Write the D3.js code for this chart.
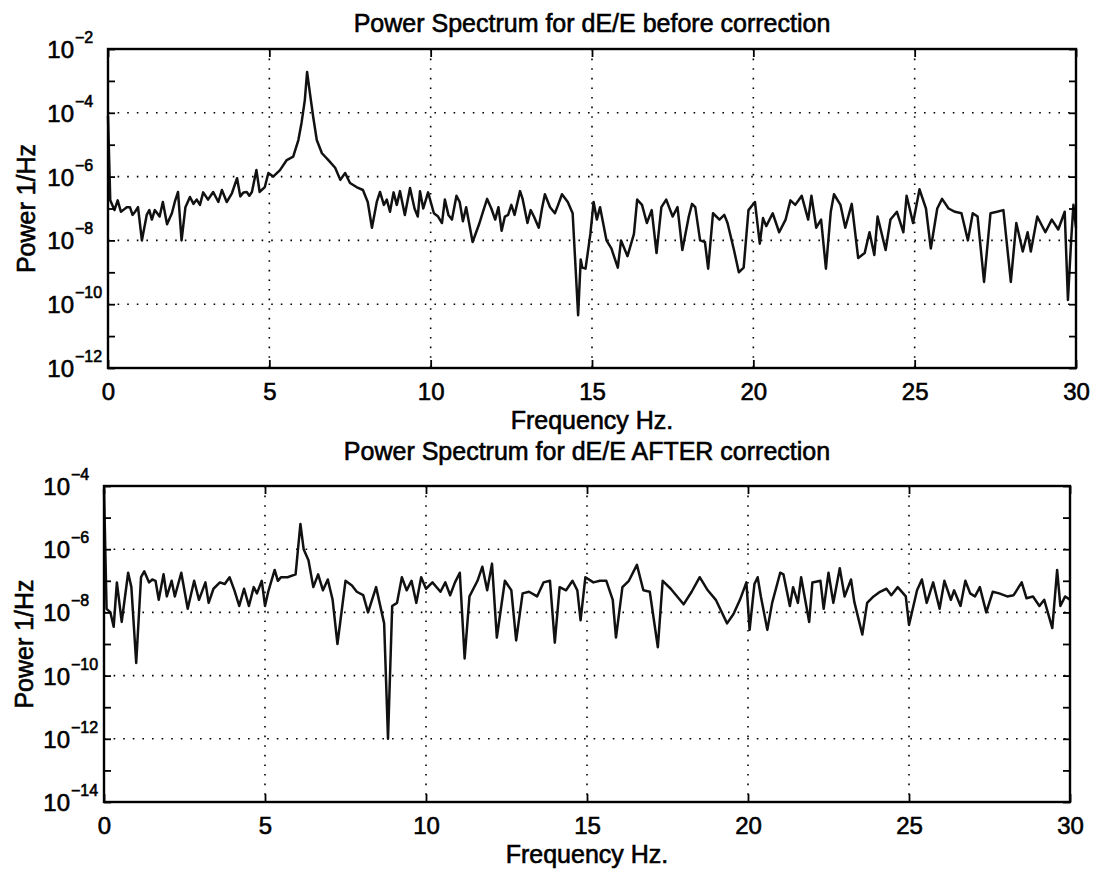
<!DOCTYPE html>
<html>
<head>
<meta charset="utf-8">
<script src="https://cdn.jsdelivr.net/npm/d3@7"></script>
<style>
    body { margin: 0; background: #fff; }
    svg text { font-family: "Liberation Sans", Arial, Helvetica, sans-serif; fill: #000; stroke: #000; stroke-width: 0.6px; }
    .grid line { stroke: #000; stroke-width: 1.6; stroke-dasharray: 1.6 8; }
    .tick line { stroke: #000; stroke-width: 1.8; }
    .frame { fill: none; stroke: #000; stroke-width: 2.4; }
    .trace { fill: none; stroke: #111; stroke-width: 2.5; stroke-linejoin: round; }
</style>
</head>
<body>
<svg id="chart" width="1093" height="872"></svg>
<script>
// (Hz, 1/Hz)
const freqBefore = [0.00, 0.07, 0.20, 0.30, 0.40, 0.47, 0.58, 0.68, 0.76, 0.84, 0.93, 1.05, 1.20, 1.28, 1.36, 1.45, 1.60, 1.70, 1.83, 1.98,
    2.07, 2.17, 2.28, 2.40, 2.54, 2.65, 2.75, 2.85, 2.95, 3.10, 3.26, 3.42, 3.53, 3.68, 3.84, 4.00, 4.10, 4.20, 4.30, 4.38,
    4.46, 4.60, 4.70, 4.86, 4.97, 5.12, 5.33, 5.54, 5.74, 5.90, 6.00, 6.10, 6.17, 6.26, 6.36, 6.47, 6.63, 6.83, 7.04, 7.20,
    7.35, 7.50, 7.70, 7.90, 8.05, 8.18, 8.33, 8.43, 8.55, 8.64, 8.74, 8.85, 8.95, 9.05, 9.20, 9.36, 9.50, 9.60, 9.67, 9.77,
    9.92, 10.10, 10.23, 10.35, 10.44, 10.55, 10.66, 10.80, 10.90, 11.00, 11.10, 11.30, 11.50, 11.62, 11.75, 11.88, 12.00, 12.10, 12.20, 12.30,
    12.40, 12.50, 12.60, 12.77, 12.85, 13.00, 13.10, 13.20, 13.35, 13.45, 13.54, 13.70, 13.85, 13.95, 14.07, 14.25, 14.40, 14.57, 14.65, 14.70,
    14.80, 14.95, 15.05, 15.15, 15.25, 15.45, 15.60, 15.80, 15.90, 16.10, 16.30, 16.40, 16.55, 16.70, 16.85, 17.00, 17.15, 17.30, 17.50, 17.65,
    17.80, 18.00, 18.10, 18.20, 18.35, 18.50, 18.60, 18.75, 18.95, 19.10, 19.20, 19.40, 19.55, 19.70, 19.85, 20.05, 20.20, 20.30, 20.40, 20.60,
    20.80, 21.00, 21.15, 21.30, 21.50, 21.70, 21.80, 21.95, 22.10, 22.25, 22.40, 22.50, 22.70, 22.85, 23.05, 23.25, 23.45, 23.60, 23.75, 23.85,
    24.10, 24.25, 24.45, 24.65, 24.75, 24.95, 25.15, 25.35, 25.50, 25.70, 25.85, 26.05, 26.25, 26.45, 26.65, 26.80, 26.95, 27.15, 27.35, 27.55,
    27.75, 27.98, 28.15, 28.35, 28.50, 28.60, 28.80, 29.05, 29.25, 29.45, 29.65, 29.75, 29.85, 29.92, 30.00];
const powerBefore = [7.9e-5, 1.8e-7, 8.9e-8, 1.8e-7, 7.9e-8, 8.9e-8, 1.1e-7, 1.1e-7, 6.3e-8, 7.9e-8, 1.1e-7, 1e-8, 6.3e-8, 8.9e-8, 4.5e-8, 8.9e-8, 5.6e-8, 1.6e-7, 3.2e-8, 7.1e-8,
    1.6e-7, 3.3e-7, 1e-8, 1.1e-7, 2.3e-7, 1.4e-7, 1.9e-7, 1.3e-7, 3.2e-7, 1.9e-7, 3.3e-7, 1.6e-7, 3.8e-7, 1.6e-7, 3.0e-7, 8.9e-7, 2.4e-7, 3.2e-7, 3.3e-7, 2.5e-7,
    3.3e-7, 1.6e-6, 3.3e-7, 4.7e-7, 1.3e-6, 1e-6, 1.6e-6, 3.3e-6, 4.2e-6, 1.4e-5, 5.0e-5, 2.5e-4, 1.9e-3, 4.0e-4, 7.4e-5, 1.4e-5, 5.4e-6, 3.3e-6, 1.9e-6, 7.9e-7,
    1.3e-6, 6.3e-7, 4.7e-7, 3.8e-7, 1.6e-7, 2.5e-8, 1.6e-7, 3.3e-7, 1.3e-7, 1.9e-7, 7.9e-8, 3.2e-7, 1.3e-7, 3.5e-7, 6.3e-8, 4.4e-7, 1e-7, 5.6e-8, 3.5e-7, 1e-7,
    3.2e-7, 7.1e-8, 5.6e-8, 3.5e-8, 1.9e-7, 6.3e-8, 4.5e-8, 2.5e-7, 1.6e-7, 4.0e-8, 1.1e-7, 8.9e-9, 3.2e-8, 7.9e-8, 2.0e-7, 1e-7, 4.5e-8, 1.1e-7, 2.0e-8, 5.6e-8,
    6.3e-8, 1.3e-7, 6.3e-8, 3.5e-7, 2.0e-7, 3.5e-8, 8.9e-8, 5.6e-8, 2.5e-8, 1e-7, 2.8e-7, 1.1e-7, 7.1e-8, 1.3e-7, 2.8e-7, 1.6e-7, 7.1e-8, 4.5e-11, 2.5e-9, 1.4e-9,
    1.3e-9, 1.6e-8, 1.6e-7, 4.5e-8, 1.1e-7, 1e-8, 5.6e-9, 1.4e-9, 1e-8, 3.2e-9, 1.6e-8, 1.9e-7, 1.3e-7, 3.5e-8, 8.9e-8, 4.0e-9, 1.1e-7, 1.9e-7, 5.6e-8, 1.1e-7,
    5.0e-9, 5.6e-8, 1.4e-7, 1.1e-7, 1e-8, 8.9e-9, 1.3e-9, 7.1e-8, 4.5e-8, 6.3e-8, 3.5e-8, 5.0e-9, 1e-9, 1.4e-9, 8.9e-8, 1.6e-7, 7.9e-9, 5.0e-8, 2.8e-8, 7.1e-8,
    1.8e-8, 4.5e-8, 1.8e-7, 1.3e-7, 2.5e-7, 4.5e-8, 2.5e-7, 2.5e-8, 4.5e-8, 1.3e-9, 7.9e-8, 2.8e-7, 1.3e-7, 2.5e-8, 1.4e-7, 2.8e-9, 4.0e-9, 1.8e-8, 3.5e-9, 5.6e-8,
    5.0e-9, 4.5e-8, 7.9e-8, 1.8e-8, 2.5e-7, 3.5e-8, 4.0e-7, 1e-7, 5.6e-9, 1e-7, 2.0e-7, 1e-7, 7.9e-8, 7.1e-8, 1e-8, 7.1e-8, 5.6e-8, 5.0e-10, 7.1e-8, 7.9e-8,
    8.9e-8, 5.0e-10, 3.5e-8, 4.5e-9, 1.8e-8, 4.5e-9, 5.6e-8, 1.8e-8, 4.5e-8, 2.2e-8, 7.9e-8, 1.35e-10, 1e-8, 1.3e-7, 2.5e-8];

const freqAfter = [0.00, 0.08, 0.20, 0.30, 0.40, 0.55, 0.75, 0.85, 1.00, 1.15, 1.25, 1.40, 1.50, 1.60, 1.70, 1.85, 1.95, 2.10, 2.20, 2.40,
    2.60, 2.80, 2.95, 3.15, 3.25, 3.40, 3.60, 3.75, 3.90, 4.05, 4.20, 4.35, 4.50, 4.65, 4.75, 4.90, 5.00, 5.10, 5.30, 5.40,
    5.50, 5.70, 5.95, 6.10, 6.20, 6.35, 6.50, 6.65, 6.80, 6.95, 7.10, 7.25, 7.50, 7.70, 7.85, 8.05, 8.20, 8.45, 8.70, 8.82,
    8.95, 9.10, 9.25, 9.40, 9.55, 9.70, 9.85, 10.00, 10.20, 10.45, 10.60, 10.75, 10.90, 11.05, 11.20, 11.35, 11.60, 11.75, 11.90, 12.05,
    12.20, 12.45, 12.65, 12.80, 13.00, 13.20, 13.45, 13.65, 13.85, 14.00, 14.15, 14.35, 14.55, 14.70, 14.80, 14.95, 15.20, 15.40, 15.60, 15.80,
    15.90, 16.10, 16.30, 16.55, 16.75, 16.95, 17.20, 17.35, 17.60, 17.80, 18.00, 18.25, 18.50, 18.75, 19.00, 19.35, 19.55, 19.75, 19.95, 20.05,
    20.20, 20.30, 20.40, 20.60, 20.75, 21.00, 21.10, 21.30, 21.40, 21.55, 21.65, 21.90, 22.00, 22.25, 22.35, 22.50, 22.65, 22.85, 23.00, 23.20,
    23.30, 23.55, 23.70, 23.90, 24.10, 24.30, 24.45, 24.65, 24.90, 25.00, 25.25, 25.40, 25.55, 25.75, 25.95, 26.10, 26.30, 26.40, 26.60, 26.75,
    26.90, 27.05, 27.20, 27.40, 27.60, 27.80, 28.05, 28.25, 28.50, 28.65, 28.85, 29.05, 29.20, 29.45, 29.60, 29.70, 29.85, 30.00];
const powerAfter = [7.9e-5, 1.3e-8, 1e-8, 3.5e-9, 8.9e-8, 5.0e-9, 1.8e-7, 6.3e-8, 2.5e-10, 1.3e-7, 2.0e-7, 8.9e-8, 1.1e-7, 1e-7, 2.5e-8, 1.6e-7, 3.2e-8, 1e-7, 3.2e-8, 1.8e-7,
    1.3e-8, 1e-7, 2.5e-8, 8.9e-8, 2.0e-8, 5.6e-8, 8.9e-8, 7.9e-8, 1.3e-7, 5.0e-8, 1.6e-8, 5.6e-8, 1.6e-8, 6.3e-8, 4.0e-8, 1e-7, 1.6e-8, 4.5e-8, 2.2e-7, 1e-7,
    1.3e-7, 1.3e-7, 1.6e-7, 6.3e-6, 1e-6, 4.5e-7, 6.3e-8, 1.6e-7, 5.0e-8, 1.1e-7, 2.5e-8, 1e-9, 1e-7, 7.1e-8, 4.5e-8, 3.5e-8, 1e-8, 6.3e-8, 4.5e-9, 1e-12,
    1.6e-8, 2.0e-8, 1.3e-7, 5.0e-8, 1e-7, 2.0e-8, 1.3e-7, 5.6e-8, 8.9e-8, 4.5e-8, 8.9e-8, 3.5e-8, 8.9e-8, 1.8e-7, 3.5e-10, 3.2e-8, 1e-7, 2.8e-7, 5.0e-8, 3.5e-7,
    1.6e-9, 1e-7, 5.0e-8, 1.3e-9, 4.0e-8, 4.5e-8, 3.2e-8, 8.9e-8, 1e-7, 1.1e-9, 6.3e-8, 5.0e-8, 1e-7, 5.0e-8, 5.6e-9, 1.3e-7, 8.9e-8, 1e-7, 1e-7, 2.5e-8,
    1.6e-9, 6.3e-8, 1e-7, 3.2e-7, 5.0e-8, 4.5e-8, 7.9e-10, 1e-7, 5.6e-8, 3.2e-8, 1.8e-8, 4.5e-8, 1.3e-7, 5.0e-8, 2.5e-8, 4.5e-9, 8.9e-9, 2.5e-8, 8.9e-8, 2.8e-9,
    7.9e-8, 1.3e-7, 3.2e-8, 2.8e-9, 2.0e-8, 1.8e-7, 1.6e-7, 1.6e-8, 6.3e-8, 2.0e-8, 1.3e-7, 5.0e-9, 8.9e-8, 1e-7, 1.3e-8, 1.8e-7, 2.0e-8, 2.5e-7, 3.2e-8, 1.1e-7,
    2.2e-8, 2.0e-9, 2.0e-8, 3.2e-8, 4.5e-8, 5.6e-8, 3.5e-8, 6.3e-8, 3.2e-8, 4.0e-9, 5.0e-8, 1.1e-7, 2.0e-8, 8.9e-8, 1.3e-8, 1e-7, 2.5e-8, 5.0e-8, 1.6e-8, 1e-7,
    4.0e-8, 3.2e-8, 6.3e-8, 1e-8, 4.5e-8, 4.0e-8, 3.2e-8, 3.5e-8, 8.9e-8, 2.8e-8, 3.2e-8, 1.6e-8, 2.5e-8, 3.2e-9, 2.2e-7, 1.6e-8, 3.2e-8, 2.5e-8];

const xTicks = [0, 5, 10, 15, 20, 25, 30];
const yLabelsBefore = [1e-2, 1e-4, 1e-6, 1e-8, 1e-10, 1e-12];
const yLabelsAfter = [1e-4, 1e-6, 1e-8, 1e-10, 1e-12, 1e-14];

const svg = d3.select("#chart");

/** One MATLAB style subplot: boxed log-y axes with dotted grid */
class SpectrumPanel {
    constructor(box, freq, power, yLabels, title) {
        this.box = box;
        this.data = freq.map((f, i) => ({ f: f, p: power[i] }));
        this.yLabels = yLabels;
        this.title = title;
        this.x = d3.scaleLinear().domain([0, 30]).range([box.left, box.right]);
        this.y = d3.scaleLog().domain([d3.min(yLabels), d3.max(yLabels)]).range([box.bottom, box.top]);
    }

    draw() {
        let b = this.box, x = this.x, y = this.y;
        let g = svg.append("g");

        // every decade gets a tick, every second one a grid line + label
        let lo = Math.round(Math.log10(y.domain()[0])), hi = Math.round(Math.log10(y.domain()[1]));
        let decades = d3.range(lo, hi + 1).map(e => Math.pow(10, e));

        let grid = g.append("g").attr("class", "grid");
        grid.selectAll(".gx")
            .data(xTicks.slice(1, -1))
            .join("line")
            .attr("x1", d => x(d)).attr("x2", d => x(d))
            .attr("y1", b.top).attr("y2", b.bottom);
        grid.selectAll(".gy")
            .data(this.yLabels.slice(1, -1))
            .join("line")
            .attr("x1", b.left).attr("x2", b.right)
            .attr("y1", d => y(d)).attr("y2", d => y(d));

        let line = d3.line().x(d => x(d.f)).y(d => y(d.p));
        g.append("path").datum(this.data).attr("class", "trace").attr("d", line);

        g.append("g").attr("transform", `translate(0,${b.bottom})`)
            .call(d3.axisBottom(x).tickValues(xTicks).tickSizeInner(-8).tickSizeOuter(0).tickPadding(15))
            .call(a => a.select(".domain").remove())
            .selectAll("text").attr("font-size", 24);
        g.append("g").attr("transform", `translate(0,${b.top})`)
            .call(d3.axisTop(x).tickValues(xTicks).tickSizeInner(-8).tickSizeOuter(0).tickFormat(""))
            .call(a => a.select(".domain").remove());
        g.append("g").attr("transform", `translate(${b.left},0)`)
            .call(d3.axisLeft(y).tickValues(decades).tickSizeInner(-7).tickSizeOuter(0).tickFormat(""))
            .call(a => a.select(".domain").remove());
        g.append("g").attr("transform", `translate(${b.right},0)`)
            .call(d3.axisRight(y).tickValues(decades).tickSizeInner(-7).tickSizeOuter(0).tickFormat(""))
            .call(a => a.select(".domain").remove());

        g.append("rect").attr("class", "frame")
            .attr("x", b.left).attr("y", b.top)
            .attr("width", b.right - b.left).attr("height", b.bottom - b.top);

        // "10" stays in a fixed column, exponent follows it as a superscript
        let col = b.left - 34;
        g.selectAll(".ybase").data(this.yLabels).join("text")
            .attr("x", col).attr("y", d => y(d) + 9)
            .attr("text-anchor", "end").attr("font-size", 24)
            .text("10");
        g.selectAll(".yexp").data(this.yLabels).join("text")
            .attr("x", col + 1).attr("y", d => y(d) - 6)
            .attr("font-size", 16)
            .text(d => "\u2212" + Math.abs(Math.round(Math.log10(d))));

        let cx = (b.left + b.right) / 2, cy = (b.top + b.bottom) / 2;
        g.append("text").attr("x", cx).attr("y", b.titleY)
            .attr("text-anchor", "middle").attr("font-size", 25).text(this.title);
        g.append("text").attr("x", cx).attr("y", b.bottom + 61)
            .attr("text-anchor", "middle").attr("font-size", 25).text("Frequency Hz.");
        g.append("text").attr("transform", `translate(${b.labelX},${cy}) rotate(-90)`)
            .attr("text-anchor", "middle").attr("font-size", 25).text("Power 1/Hz");
    }
}

new SpectrumPanel({ left: 108, right: 1076, top: 49, bottom: 368, titleY: 32, labelX: 35 },
    freqBefore, powerBefore, yLabelsBefore, "Power Spectrum for dE/E before correction").draw();
new SpectrumPanel({ left: 104, right: 1070, top: 486, bottom: 802, titleY: 460, labelX: 33 },
    freqAfter, powerAfter, yLabelsAfter, "Power Spectrum for dE/E AFTER correction").draw();
</script>
</body>
</html>
